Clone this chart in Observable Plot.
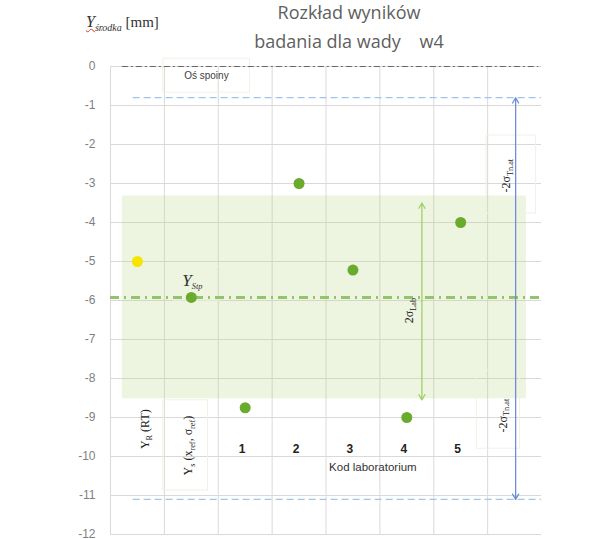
<!DOCTYPE html>
<html><head><meta charset="utf-8">
<script src="https://cdn.jsdelivr.net/npm/d3@7"></script>
<script src="https://cdn.jsdelivr.net/npm/@observablehq/plot@0.6"></script>
<style>
body{margin:0;background:#fff;}
#wrap{position:relative;width:601px;height:539px;overflow:hidden;background:#fff;}
#chart{position:absolute;left:0;top:0;}
.t{position:absolute;left:0;width:698px;text-align:center;font-family:'Open Sans',sans-serif;font-size:18px;color:#5f5f5f;white-space:pre;line-height:20px;}
#yl{position:absolute;left:86px;top:13px;font-family:'Liberation Serif',serif;font-size:15px;color:#333;white-space:pre;}
#yl .v{text-decoration:underline wavy #e03030;text-decoration-thickness:1px;}
#yl i.big{font-size:16px;}
#yl sub{font-size:10px;}
</style></head>
<body><div id="wrap">
<div id="chart"></div>
<div class="t" style="top:2px">Rozkład wyników</div>
<div class="t" style="top:31px">badania dla wady    w4</div>
<div id="yl"><span class="v"><i class="big">Y</i><sub><i>środka</i></sub></span> [mm]</div>
</div>
<script>
// --- data ---
const labCodes = ["1", "2", "3", "4", "5"];
const labX = [2.5, 3.5, 4.5, 5.5, 6.5];
const labY = [-8.75, -3.0, -5.22, -9.0, -4.0];
const rtX = [0.5], rtY = [-5.0];          // Y_R (RT)
const stpX = [1.5], stpY = [-5.92];       // Y_Stp
const yTicks = [0, -1, -2, -3, -4, -5, -6, -7, -8, -9, -10, -11, -12];
const xGrid = [0, 1, 2, 3, 4, 5, 6, 7];
const bandLab = [-3.32, -8.52];           // ±2σ Lab band
const arrowLab = [-3.5, -8.55];
const lineTn = [-0.8, -11.1];              // ±2σ Tn.at limits
const weldAxis = [0];                      // Oś spoiny

const green = "#6aab2e";
const bandData = [{x1: 0.22, x2: 7.72, y1: bandLab[0], y2: bandLab[1]}];
const boxes = [
  {x1: 0.98, x2: 2.59, y1: 0.2, y2: -0.67},
  {x1: 1.17, x2: 2.04, y1: -5.15, y2: -6.0},
  {x1: 6.98, x2: 7.9, y1: -1.77, y2: -3.77},
  {x1: 6.8, x2: 7.6, y1: -7.8, y2: -9.8},
  {x1: 0.98, x2: 1.81, y1: -8.56, y2: -10.87}
];
const rotLabels = [
  {x: 5.54, y: -6.26, t: "2σ_{Lab}"},
  {x: 7.35, y: -2.8, t: "-2σ_{Tn.at}"},
  {x: 7.28, y: -8.95, t: "-2σ_{Tn.at}"},
  {x: 0.65, y: -9.3, t: "Y_{R} (RT)"},
  {x: 1.44, y: -9.72, t: "Y_{s} (x_{ref}, σ_{ref})"}
];
const tnArrowX = 7.52, labArrowX = 5.78;

const chart = Plot.plot({
  width: 601, height: 539,
  marginTop: 66, marginBottom: 5, marginLeft: 110, marginRight: 60,
  x: {domain: [0, 8], axis: null},
  y: {domain: [-12, 0], axis: null},
  style: {fontFamily: "'Liberation Sans', Arial, sans-serif", fontSize: "11px", background: "transparent", overflow: "visible"},
  marks: [
    Plot.ruleY(yTicks, {stroke: "#dcd8d8", strokeWidth: 1}),
    Plot.ruleX(xGrid, {y1: -12, y2: 0, stroke: "#dcd8d8", strokeWidth: 1}),
    Plot.rect(bandData, {x1: "x1", x2: "x2", y1: "y1", y2: "y2", fill: "#b8d585", fillOpacity: 0.25}),
    Plot.rect(boxes, {x1: "x1", x2: "x2", y1: "y1", y2: "y2", fill: "none", stroke: "#f1f1e6", strokeWidth: 1}),
    Plot.axisY({ticks: yTicks, tickSize: 0, tickPadding: 15, tickFormat: d => String(d), fontSize: 12, fill: "#7f7f7f", label: null}),
    Plot.ruleY(weldAxis, {x1: 0.22, x2: 7.95, stroke: "#666", strokeWidth: 1, strokeDasharray: "6,3,2,3"}),
    Plot.ruleY(lineTn, {x1: 0.42, x2: 8, stroke: "#9fc5ec", strokeWidth: 1.2, strokeDasharray: "7,4"}),
    Plot.ruleY(stpY, {x1: 0, x2: 8, stroke: "#93c46c", strokeWidth: 3, strokeDasharray: "9,5,2,5"}),
    Plot.arrow([0, 1], {x1: labArrowX, x2: labArrowX, y1: (d, i) => (arrowLab[0] + arrowLab[1]) / 2, y2: (d, i) => arrowLab[i], stroke: "#a3cf6b", strokeWidth: 1.3, headLength: 7}),
    Plot.arrow([0, 1], {x1: tnArrowX, x2: tnArrowX, y1: stpY[0], y2: (d, i) => lineTn[i], stroke: "#6e8fd6", strokeWidth: 1.3, headLength: 7}),
    Plot.dot(rtX, {x: d => d, y: () => rtY[0], r: 5.5, fill: "#f7e400", stroke: "none"}),
    Plot.dot(stpX, {x: d => d, y: () => stpY[0], r: 5.5, fill: green, stroke: "none"}),
    Plot.dot(labCodes, {x: (d, i) => labX[i], y: (d, i) => labY[i], r: 5.5, fill: green, stroke: "none"}),
    Plot.text(["Oś spoiny"], {x: 1.78, y: -0.23, fontSize: 10, fill: "#404040"}),
    Plot.text(["Y_{Stp}"], {x: 1.52, y: -5.49, fontSize: 17, fontStyle: "italic", fontFamily: "'Liberation Serif', serif", fill: "#333"}),
    Plot.text(rotLabels, {x: "x", y: "y", text: "t", rotate: -90, fontSize: 12, fontFamily: "'Liberation Serif', serif", fill: "#222"}),
    Plot.text(labCodes, {x: (d, i) => labX[i], y: () => -9.82, dx: -3, fontSize: 12, fontWeight: "bold", fill: "#222"}),
    Plot.text(["Kod laboratorium"], {x: 4.87, y: -10.28, fontSize: 11.5, fill: "#333"})
  ]
});
// subscripts
chart.querySelectorAll("text").forEach(t => {
  const s = t.textContent;
  if (!s.includes("_{")) return;
  const fs = parseFloat(t.getAttribute("font-size") || getComputedStyle(t).fontSize) || 11;
  t.textContent = "";
  const parts = s.split(/(_\{[^}]*\})/).filter(p => p.length);
  let shifted = false;
  parts.forEach(p => {
    const ts = document.createElementNS("http://www.w3.org/2000/svg", "tspan");
    if (p.startsWith("_{")) {
      ts.textContent = p.slice(2, -1);
      ts.setAttribute("font-size", (fs * 0.75).toFixed(1));
      ts.setAttribute("dy", (fs * 0.25).toFixed(1));
      shifted = true;
    } else {
      ts.textContent = p;
      if (shifted) { ts.setAttribute("dy", (-fs * 0.25).toFixed(1)); shifted = false; }
    }
    t.appendChild(ts);
  });
});
document.getElementById("chart").appendChild(chart);
</script>
</body></html>
